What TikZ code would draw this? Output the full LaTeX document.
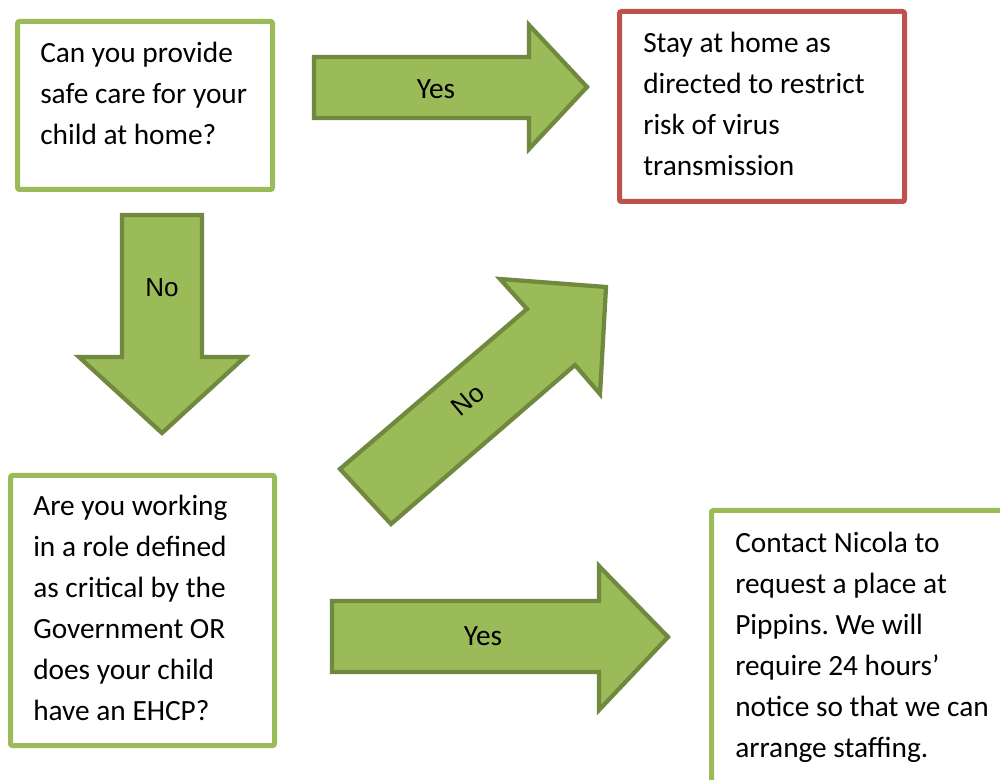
\documentclass[tikz,border=0pt]{standalone}
\usepackage{fontspec}
\setmainfont{Carlito}
\newfontfamily\arialfont{Liberation Sans}
\usetikzlibrary{fit}
\definecolor{boxgreen}{HTML}{9BBB59}
\definecolor{boxred}{HTML}{C0504D}
\definecolor{arrowedge}{HTML}{71893F}
\frenchspacing
\begin{document}
\begin{tikzpicture}[x=0.75pt,y=-0.75pt,
  qbox/.style={draw=boxgreen, line width=3.75pt, rounded corners=1.5pt, fill=white, inner sep=0pt},
  rbox/.style={qbox, draw=boxred},
  txt/.style={anchor=north west, inner sep=0pt, align=left, font=\fontsize{22}{30.75}\selectfont},
  blockarrow/.style={fill=boxgreen, draw=arrowedge, line width=3.2pt, line join=miter},
  lbl/.style={inner sep=0pt, font=\fontsize{22}{26}\selectfont},
  nolbl/.style={inner sep=0pt, font=\arialfont\fontsize{19.5}{23}\selectfont}]
\useasboundingbox (0,0) rectangle (1000,780);
\clip (0,0) rectangle (1000,780);
\fill[white] (0,0) rectangle (1000,780);

% boxes
\node[qbox, fit={(17.5,21.5) (272.5,189.5)}] (q1) {};
\node[rbox, fit={(619.5,11.5) (904.5,201.5)}] (r1) {};
\node[qbox, fit={(10.5,475.5) (274.5,745.5)}] (q2) {};
\node[qbox, fit={(711.5,510.5) (1020,800)}] (q3) {};

% texts
\node[txt] (q1t) at (40,38) {\rule{0pt}{18pt}Can you provide\\safe care for your\\child at home?};
\node[txt] (r1t) at (643,28) {\rule{0pt}{18pt}Stay at home as\\directed to restrict\\risk of virus\\transmission};
\node[txt] (q2t) at (33,491) {\rule{0pt}{18pt}Are you working\\in a role defined\\as critical by the\\Government OR\\does your child\\have an EHCP?};
\node[txt] (q3t) at (735,528) {\rule{0pt}{18pt}Contact Nicola to\\request a place at\\Pippins. We will\\require 24 hours’\\notice so that we can\\arrange staffing.};

% block arrows
\draw[blockarrow] (314,57) -- (529,57) -- (529,25) -- (587,87) -- (529,149) -- (529,118) -- (314,118) -- cycle;
\node[lbl] (y1) at (436,89) {Yes};

\draw[blockarrow] (122,215) -- (202,215) -- (202,357) -- (245,357) -- (162,433) -- (79,357) -- (122,357) -- cycle;
\node[nolbl] (n1) at (162,288) {No};

\draw[blockarrow] (340,469) -- (527,309) -- (500,279) -- (606,287) -- (600,394) -- (575,365) -- (391,524) -- cycle;
\node[nolbl, rotate=40] (n2) at (468,400) {No};

\draw[blockarrow] (332,601) -- (599,601) -- (599,566) -- (668,637) -- (599,710) -- (599,672) -- (332,672) -- cycle;
\node[lbl] (y2) at (483,636) {Yes};
\end{tikzpicture}
\end{document}
